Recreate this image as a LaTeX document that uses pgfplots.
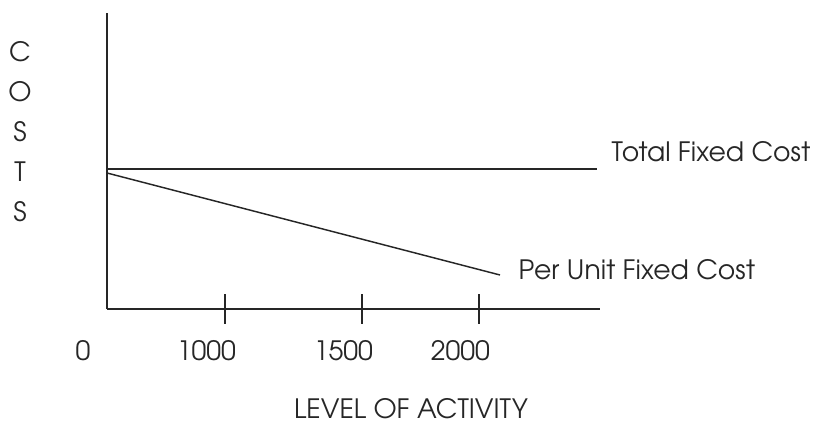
\documentclass[border=0pt]{standalone}
\usepackage{fontspec}
\setmainfont{TeX Gyre Adventor}
\usepackage{pgfplots}
\pgfplotsset{compat=1.18}
\begin{document}
\begin{tikzpicture}[x=0.75pt,y=0.75pt]
\useasboundingbox (-107,-114) rectangle (706,309);
\begin{axis}[
  anchor=origin, at={(0,0)},
  x=0.75pt, y=0.75pt,
  xmin=0, xmax=493, ymin=0, ymax=296,
  axis lines=left,
  axis line style={-, line width=1.1pt, black!85},
  xtick={118,255,372},
  xticklabels={1000,1500,2000},
  ytick=\empty,
  tick align=center,
  major tick length=22.5pt,
  tick style={line width=1pt, black!85},
  xticklabel style={anchor=center, yshift=-20.25pt, xshift=-14pt, text=black!85},
  font=\fontsize{20pt}{24pt}\selectfont,
  clip=false,
]
% total fixed cost: flat
\addplot[black!85, line width=1.1pt] coordinates {(0,140) (490,140)};
% per unit fixed cost: falling
\addplot[black!85, line width=1.1pt] coordinates {(0,136) (393,34)};
\node[anchor=west, text=black!85] at (axis cs:500,157) {Total Fixed Cost};
\node[anchor=west, text=black!85] at (axis cs:407,39) {Per Unit Fixed Cost};
\node[text=black!85] at (axis cs:-24,-42) {0};
\node[text=black!85, inner sep=0pt] at (axis cs:304,-100) {LEVEL OF ACTIVITY};
\node[text=black!85, align=center, font=\fontsize{20pt}{30pt}\selectfont] at (axis cs:-87,177) {C\\O\\S\\T\\S};
\end{axis}
\end{tikzpicture}
\end{document}
